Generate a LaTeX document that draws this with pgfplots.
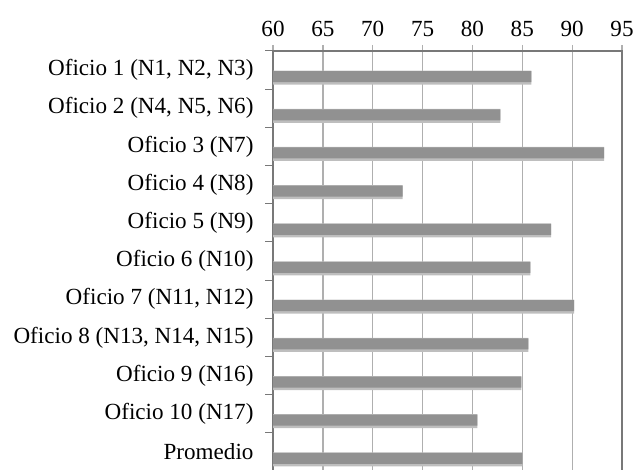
\documentclass[border=0pt]{standalone}
\usepackage{fontspec}
\setmainfont{Liberation Serif}
\usepackage{pgfplots}
\pgfplotsset{compat=1.18}
\definecolor{gridc}{RGB}{175,175,175}
\definecolor{framec}{RGB}{120,120,120}
\definecolor{barc}{RGB}{145,145,145}
\definecolor{shadc}{RGB}{190,190,190}
\pgfplotstableread{
y  v
10 85.9
9  82.8
8  93.2
7  73.0
6  87.9
5  85.8
4  90.2
3  85.6
2  84.9
1  80.5
0  85.0
}\datatable
\begin{document}
\begin{tikzpicture}[x=1bp,y=1bp]
\begin{axis}[
  at={(273bp,-1bp)}, anchor=south west,
  scale only axis, width=349bp, height=420bp,
  xmin=60, xmax=95, ymin=-0.5, ymax=10.5,
  xbar, bar width=11bp,
  xtick={60,65,...,95},
  xticklabel pos=upper,
  xtick pos=upper,
  xmajorgrids,
  grid style={draw=gridc, line width=1.3bp},
  major x tick style={draw=gridc, line width=1.3bp},
  major tick length=6bp,
  ytick={0,...,10},
  ytick pos=left,
  yticklabels={{Promedio}, {Oficio 10 (N17)}, {Oficio 9 (N16)}, {Oficio 8 (N13, N14, N15)}, {Oficio 7 (N11, N12)}, {Oficio 6 (N10)}, {Oficio 5 (N9)}, {Oficio 4 (N8)}, {Oficio 3 (N7)}, {Oficio 2 (N4, N5, N6)}, {Oficio 1 (N1, N2, N3)}},
  major y tick style={draw=none},
  minor ytick={0.5,1.5,...,10.5},
  minor y tick style={draw=framec, line width=1bp},
  minor tick length=8bp,
  tick align=outside,
  axis line style={draw=framec, line width=1.2bp},
  /pgf/number format/assume math mode=true,
  ticklabel style={font=\fontsize{23.1bp}{27bp}\selectfont, text=black},
  xticklabel style={yshift=5bp},
  yticklabel style={xshift=-10bp},
]
\addplot[fill=shadc, draw=none, bar width=14bp, bar shift=-7.5bp] table[x=v, y=y] {\datatable};
\addplot[fill=barc, draw=none, bar width=11bp, bar shift=-6.5bp] table[x=v, y=y] {\datatable};
\end{axis}
\pgfresetboundingbox
\useasboundingbox (0,0) rectangle (634,470);
\end{tikzpicture}
\end{document}
